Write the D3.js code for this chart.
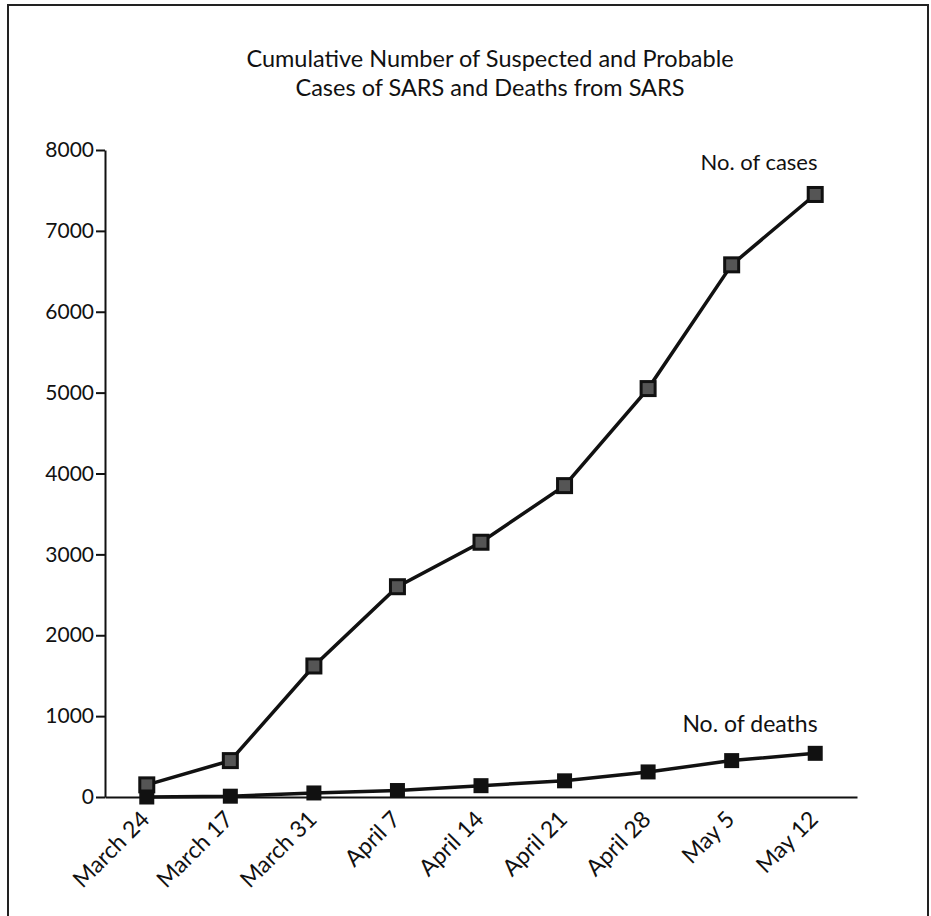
<!DOCTYPE html>
<html>
<head>
<meta charset="utf-8">
<script src="https://cdn.jsdelivr.net/npm/d3@7"></script>
<style>
  body { margin: 0; background: #fff; }
  text { font-family: Lato, "Open Sans", sans-serif; fill: #111; }
  .axis path, .axis line { stroke: #111; stroke-width: 2; }
</style>
</head>
<body>
<div id="chart"></div>
<script>
// weekly report dates, as printed on the original
var weeks = ["March 24", "March 17", "March 31", "April 7", "April 14", "April 21", "April 28", "May 5", "May 12"];
var cases = [150, 450, 1620, 2600, 3150, 3850, 5050, 6580, 7450];
var deaths = [0, 10, 50, 80, 140, 200, 310, 450, 540];
var yTicks = [0, 1000, 2000, 3000, 4000, 5000, 6000, 7000, 8000];
var titleLines = ["Cumulative Number of Suspected and Probable", "Cases of SARS and Deaths from SARS"];

var W = 931, H = 916;
var svg = d3.select("#chart").append("svg").attr("width", W).attr("height", H);

// scanned page frame
svg.append("rect").attr("x", 8).attr("y", 5).attr("width", 920).attr("height", 930)
  .attr("fill", "none").attr("stroke", "#222").attr("stroke-width", 2);

var x = d3.scalePoint().domain(weeks).range([105, 857]).padding(0.5);
var y = d3.scaleLinear().domain([0, 8000]).range([797, 150]);

var yg = svg.append("g").attr("class", "axis").attr("transform", "translate(105,0)")
  .call(d3.axisLeft(y).tickValues(yTicks).tickFormat(d3.format("d")).tickSize(9).tickSizeOuter(0).tickPadding(2));
yg.selectAll("text").attr("font-size", 21).attr("font-family", "Lato, sans-serif").attr("fill", "#111");

var xg = svg.append("g").attr("class", "axis").attr("transform", "translate(0," + y(0) + ")")
  .call(d3.axisBottom(x).tickSize(0).tickSizeOuter(0));
xg.selectAll("text")
  .attr("font-size", 23).attr("font-family", "Lato, sans-serif").attr("fill", "#111")
  .attr("text-anchor", "end")
  .attr("transform", "translate(-2,18) rotate(-45)")
  .attr("dy", "0.35em").attr("y", 0);

// title
svg.append("text").attr("x", 490).attr("y", 67).attr("text-anchor", "middle")
  .style("font-size", "23.5px").text(titleLines[0]);
svg.append("text").attr("x", 490).attr("y", 96).attr("text-anchor", "middle")
  .style("font-size", "23.5px").text(titleLines[1]);

var line = d3.line().x(function (d, i) { return x(weeks[i]); }).y(function (d) { return y(d); });

svg.append("path").datum(cases).attr("d", line)
  .attr("fill", "none").attr("stroke", "#111").attr("stroke-width", 3.5);
svg.append("path").datum(deaths).attr("d", line)
  .attr("fill", "none").attr("stroke", "#111").attr("stroke-width", 3.5);

svg.selectAll(".caseMark").data(cases).enter().append("rect")
  .attr("class", "caseMark")
  .attr("x", function (d, i) { return x(weeks[i]) - 7; })
  .attr("y", function (d) { return y(d) - 7; })
  .attr("width", 14).attr("height", 14)
  .attr("fill", "#555").attr("stroke", "#111").attr("stroke-width", 3);

svg.selectAll(".deathMark").data(deaths).enter().append("rect")
  .attr("class", "deathMark")
  .attr("x", function (d, i) { return x(weeks[i]) - 7.5; })
  .attr("y", function (d) { return y(d) - 7.5; })
  .attr("width", 15).attr("height", 15)
  .attr("fill", "#111");

svg.append("text").attr("x", 759).attr("y", 170).attr("text-anchor", "middle")
  .style("font-size", "22px").text("No. of cases");
svg.append("text").attr("x", 750).attr("y", 732).attr("text-anchor", "middle")
  .style("font-size", "23px").text("No. of deaths");
</script>
</body>
</html>
